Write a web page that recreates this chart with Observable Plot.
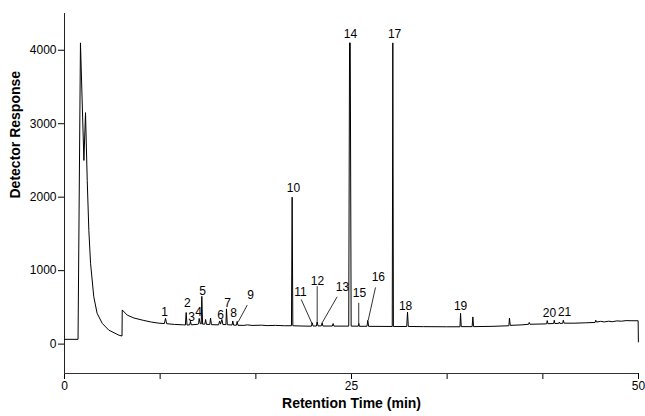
<!DOCTYPE html>
<html><head><meta charset="utf-8">
<script src="https://cdn.jsdelivr.net/npm/d3@7"></script>
<script src="https://cdn.jsdelivr.net/npm/@observablehq/plot@0.6"></script>
<style>body{margin:0;background:#fff;} svg{font-family:Arial,"Liberation Sans",sans-serif;}</style>
</head><body><div id="chart"></div>
<script>
// Chromatogram trace: retention time (min) and detector response
const traceT = [0,1.18,1.39,1.69,1.83,1.98,2.12,2.27,2.55,2.84,3.29,3.86,4.73,5.01,5.03,5.46,6.05,6.91,7.57,8.21,
  8.70,8.80,8.90,9.58,10.39,10.53,10.60,10.67,10.91,10.97,11.05,11.60,11.68,11.73,11.82,11.91,11.96,12.03,12.23,12.29,
  12.37,12.66,12.72,12.80,13.42,13.51,13.59,13.71,13.80,14.06,14.11,14.18,14.60,14.66,14.73,14.98,15.04,15.11,15.63,15.94,
  16.34,17.15,17.65,18.36,19.17,19.77,19.83,19.89,20.68,21.51,21.58,21.65,21.94,22.01,22.08,22.37,22.44,22.51,23.33,23.40,
  23.47,24.76,24.83,24.89,24.97,25.59,25.64,25.69,26.35,26.42,26.49,28.55,28.60,28.65,29.81,29.88,29.95,31.27,33.29,34.45,34.50,
  34.56,35.51,35.57,35.63,37.32,38.71,38.76,38.83,39.84,40.43,40.48,40.55,41.86,42.00,42.05,42.11,42.61,42.66,42.72,43.05,
  43.10,43.15,43.40,43.45,43.52,44.38,45.39,46.22,46.28,46.34,46.70,47.01,47.41,47.71,48.12,48.52,48.92,49.43,49.97,49.99];
const traceV = [65,65,4100,2500,3150,2230,1550,1100,645,420,282,190,122,110,465,395,355,322,300,285,
  280,350,278,268,262,260,430,260,262,310,262,270,275,350,280,275,650,272,272,335,
  268,268,355,265,262,315,272,335,266,266,480,264,260,315,258,258,310,256,255,262,
  254,258,252,255,250,250,2000,250,246,244,290,246,246,300,248,248,290,246,246,280,
  245,245,4100,4100,245,244,280,242,243,325,242,240,4100,240,240,435,240,238,236,236,420,
  238,238,370,238,242,250,355,255,262,270,295,270,275,276,320,278,280,325,280,282,
  300,282,283,325,285,285,290,295,325,300,310,302,312,305,316,312,320,318,318,30];

// Peak numbers and label positions
const peakText = ["1","2","3","4","5","6","7","8","9","10","11","12","13","14","15","16","17","18","19","20","21"];
const peakLabelT = [8.72,10.71,11.07,11.67,12.02,13.59,14.20,14.72,16.20,19.95,20.56,22.04,24.21,24.91,25.69,27.34,28.75,29.71,34.50,42.24,43.56];
const peakLabelV = [435,558,367,435,721,395,558,422,667,2122,707,857,775,4218,694,911,4218,517,517,422,435];

// Leader lines from labels to small peaks
const leaderT1 = [15.92,20.62,22.01,23.75,25.63,27.09];
const leaderV1 = [531,608,789,644,562,771];
const leaderT2 = [15.13,21.58,22.01,22.44,25.63,26.46];
const leaderV2 = [303,272,282,290,272,327];

const xDomain = [0, 50];
const yDomain = [-400, 4500];
const xTicks = [0, 8.33, 16.67, 25, 33.33, 41.67, 50];
const xTickLabels = ["0", "", "", "25", "", "", "50"];
const yTicks = [0, 1000, 2000, 3000, 4000];

const trace = traceT.map((t, i) => ({t, v: traceV[i]}));
const labels = peakText.map((s, i) => ({s, t: peakLabelT[i], v: peakLabelV[i]}));
const leaders = leaderT1.map((t, i) => ({t1: t, v1: leaderV1[i], t2: leaderT2[i], v2: leaderV2[i]}));
const xLabelMap = new Map(xTicks.map((d, i) => [d, xTickLabels[i]]));

const chart = Plot.plot({
  width: 645, height: 416,
  marginLeft: 64, marginRight: 7, marginTop: 13, marginBottom: 43,
  style: {fontFamily: "Arial, 'Liberation Sans', sans-serif", fontSize: "12px", background: "#fff", color: "#000"},
  x: {domain: xDomain},
  y: {domain: yDomain},
  marks: [
    Plot.axisX({ticks: xTicks, tickFormat: d => xLabelMap.get(d), tickSize: 6, tickPadding: 2, label: null, fontSize: 12}),
    Plot.axisY({ticks: yTicks, tickFormat: d => String(d), tickSize: 6, tickPadding: 2, label: null, fontSize: 12}),
    Plot.ruleX([xDomain[0]], {y1: yDomain[0], y2: yDomain[1], stroke: "#222"}),
    Plot.ruleY([yDomain[0]], {x1: xDomain[0], x2: xDomain[1], stroke: "#333"}),
    Plot.line(trace, {x: "t", y: "v", stroke: "#000", strokeWidth: 1}),
    Plot.link(leaders, {x1: "t1", y1: "v1", x2: "t2", y2: "v2", stroke: "#000", strokeWidth: 0.8}),
    Plot.text(labels, {x: "t", y: "v", text: "s", fontSize: 12, fill: "#000"}),
    Plot.text(["Detector Response"], {frameAnchor: "left", dx: -49, dy: 5, rotate: -90, fontWeight: "bold", fontSize: 14, fill: "#000"}),
    Plot.text(["Retention Time (min)"], {frameAnchor: "bottom", dy: 34, fontWeight: "bold", fontSize: 14, fill: "#000"})
  ]
});
document.getElementById("chart").appendChild(chart);
</script>
</body></html>
